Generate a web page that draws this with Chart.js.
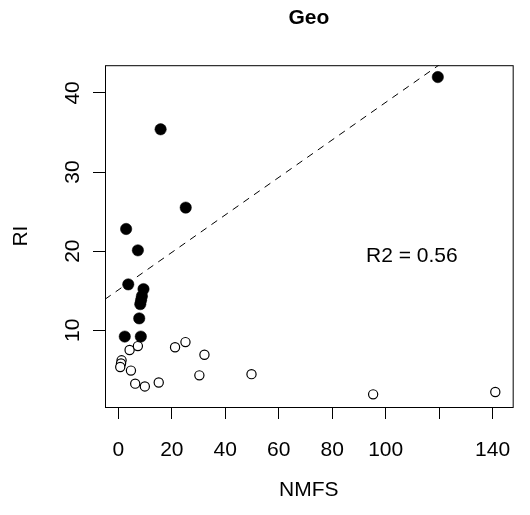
<!DOCTYPE html>
<html>
<head>
<meta charset="utf-8">
<script src="https://cdn.jsdelivr.net/npm/chart.js@4"></script>
<style>
  html, body { margin: 0; padding: 0; background: #fff; }
  #wrap { width: 530px; height: 515px; }
</style>
</head>
<body>
<div id="wrap"><canvas id="geoChart" width="530" height="515"></canvas></div>
<script>
// Values
const filledX = [15.8, 25.2, 2.9, 7.3, 3.7, 9.4, 8.8, 8.5, 8.2, 7.8, 2.4, 8.4, 119.5];
const filledY = [35.4, 25.5, 22.8, 20.1, 15.8, 15.2, 14.3, 13.8, 13.3, 11.5, 9.2, 9.2, 42.0];
const openX = [1.2, 1.0, 0.7, 4.2, 7.3, 4.7, 6.3, 9.9, 15.1, 21.2, 25.1, 32.2, 30.3, 49.8, 95.3, 141.0];
const openY = [6.2, 5.8, 5.35, 7.5, 8.0, 4.9, 3.25, 2.9, 3.4, 7.85, 8.5, 6.9, 4.3, 4.45, 1.9, 2.2];

const xTicks = [0, 20, 40, 60, 80, 100, 120, 140];
const xTickLabels = ['0', '20', '40', '60', '80', '100', '', '140'];
const yTicks = [10, 20, 30, 40];
const yTickLabels = ['10', '20', '30', '40'];

// fitted line RI = a + b * NMFS
const fitIntercept = 15.1;
const fitSlope = 0.237;
const r2Text = 'R2 = 0.56';

const xMin = -5, xMax = 147.5;
const yMin = 0.3, yMax = 43.5;

const FONT = '"Liberation Sans", Arial, sans-serif';

const toPoints = (xs, ys) => xs.map((x, i) => ({ x: x, y: ys[i] }));
const fitLine = [xMin, xMax].map(x => ({ x: x, y: fitIntercept + fitSlope * x }));

// box round the plot region plus the R2 note
const boxPlugin = {
  id: 'boxPlugin',
  afterDraw(chart) {
    const { ctx, chartArea, scales } = chart;
    ctx.save();
    ctx.strokeStyle = '#000';
    ctx.lineWidth = 1;
    ctx.strokeRect(chartArea.left + 0.5, chartArea.top + 0.5,
      chartArea.right - chartArea.left, chartArea.bottom - chartArea.top);
    ctx.fillStyle = '#000';
    ctx.font = '21px ' + FONT;
    ctx.textAlign = 'center';
    ctx.textBaseline = 'middle';
    ctx.fillText(r2Text, scales.x.getPixelForValue(109.8), scales.y.getPixelForValue(19.4));
    ctx.restore();
  }
};

new Chart(document.getElementById('geoChart'), {
  type: 'scatter',
  data: {
    datasets: [
      {
        type: 'line',
        data: fitLine,
        borderColor: '#000',
        borderWidth: 1,
        borderDash: [7, 6],
        pointRadius: 0,
        fill: false,
        order: 3
      },
      {
        data: toPoints(openX, openY),
        pointRadius: 4.6,
        pointBorderWidth: 1.2,
        pointBorderColor: '#000',
        pointBackgroundColor: '#fff',
        order: 2
      },
      {
        data: toPoints(filledX, filledY),
        pointRadius: 5.7,
        pointBorderWidth: 0.5,
        pointBorderColor: '#000',
        pointBackgroundColor: '#000',
        order: 1
      }
    ]
  },
  options: {
    responsive: false,
    animation: false,
    devicePixelRatio: 1,
    layout: { padding: { left: 0, right: 2, top: 0, bottom: 0 } },
    plugins: {
      legend: { display: false },
      tooltip: { enabled: false },
      title: {
        display: true,
        text: 'Geo',
        fullSize: false,
        color: '#000',
        font: { family: FONT, size: 21, weight: 'bold' },
        padding: { top: 6, bottom: 34 }
      }
    },
    scales: {
      x: {
        type: 'linear',
        min: xMin,
        max: xMax,
        afterBuildTicks: scale => { scale.ticks = xTicks.map(v => ({ value: v })); },
        afterFit: scale => { scale.height = 108; },
        ticks: {
          color: '#000',
          font: { family: FONT, size: 21 },
          padding: 19,
          maxRotation: 0,
          autoSkip: false,
          callback: (value) => xTickLabels[xTicks.indexOf(value)]
        },
        grid: { drawOnChartArea: false, drawTicks: true, tickLength: 12, color: '#000', lineWidth: 1 },
        border: { display: false },
        title: {
          display: true,
          text: 'NMFS',
          color: '#000',
          font: { family: FONT, size: 21 },
          padding: { top: 0, bottom: 12 }
        }
      },
      y: {
        type: 'linear',
        min: yMin,
        max: yMax,
        afterBuildTicks: scale => { scale.ticks = yTicks.map(v => ({ value: v })); },
        afterFit: scale => { scale.width = 105; },
        ticks: {
          color: '#000',
          font: { family: FONT, size: 21 },
          padding: 8,
          minRotation: 90,
          maxRotation: 90,
          crossAlign: 'center',
          autoSkip: false,
          callback: (value) => yTickLabels[yTicks.indexOf(value)]
        },
        grid: { drawOnChartArea: false, drawTicks: true, tickLength: 12, color: '#000', lineWidth: 1 },
        border: { display: false },
        title: {
          display: true,
          text: 'RI',
          color: '#000',
          font: { family: FONT, size: 21 },
          padding: { top: 9, bottom: 0 }
        }
      }
    }
  },
  plugins: [boxPlugin]
});
</script>
</body>
</html>
